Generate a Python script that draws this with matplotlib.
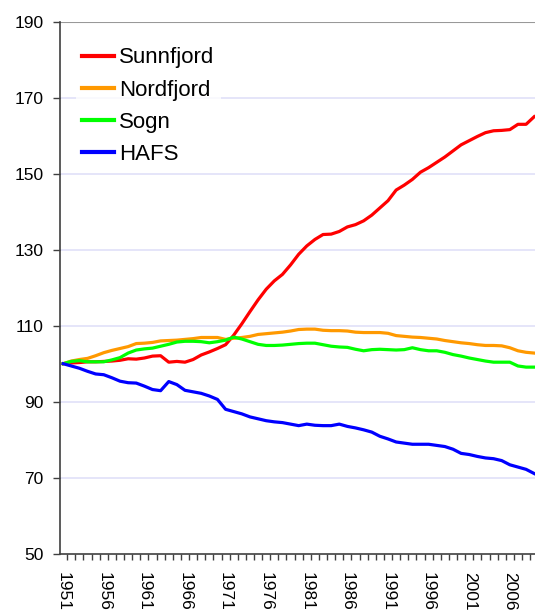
import matplotlib
matplotlib.use("Agg")
import matplotlib.pyplot as plt
from matplotlib.ticker import FixedLocator

plt.rcParams['font.family'] = ['Liberation Sans', 'DejaVu Sans']

# index, 1951 = 100
years = list(range(1951, 2010))

sunnfjord = [100.0, 100.2, 100.3, 100.5, 100.5, 100.6, 100.7, 100.9, 101.3, 101.2,
             101.5, 102.0, 102.1, 100.4, 100.6, 100.4, 101.1, 102.3, 103.1, 104.0,
             105.0, 107.5, 110.5, 113.7, 116.8, 119.6, 121.8, 123.5, 126.0, 128.8,
             131.0, 132.7, 134.0, 134.1, 134.8, 136.0, 136.6, 137.6, 139.1, 141.0,
             142.9, 145.7, 147.0, 148.5, 150.4, 151.6, 153.0, 154.4, 156.0, 157.6,
             158.7, 159.8, 160.8, 161.3, 161.4, 161.6, 163.0, 163.0, 165.0]

nordfjord = [100.0, 100.7, 101.1, 101.4, 102.1, 102.9, 103.5, 104.0, 104.5, 105.3,
             105.4, 105.6, 106.0, 106.1, 106.2, 106.4, 106.6, 106.9, 106.9, 106.9,
             106.4, 106.7, 106.9, 107.2, 107.7, 107.9, 108.1, 108.3, 108.6, 109.0,
             109.1, 109.1, 108.8, 108.7, 108.7, 108.6, 108.3, 108.2, 108.2, 108.2,
             108.0, 107.4, 107.2, 107.0, 106.9, 106.7, 106.5, 106.1, 105.8, 105.5,
             105.3, 105.0, 104.8, 104.8, 104.7, 104.2, 103.4, 103.0, 102.8]

sogn = [100.0, 100.6, 100.8, 100.5, 100.5, 100.5, 101.0, 101.6, 102.8, 103.6,
        103.9, 104.1, 104.6, 105.1, 105.7, 105.9, 105.9, 105.8, 105.5, 105.8,
        106.2, 107.0, 106.5, 105.8, 105.1, 104.8, 104.8, 104.9, 105.1, 105.3,
        105.4, 105.4, 105.0, 104.6, 104.4, 104.3, 103.8, 103.4, 103.7, 103.8,
        103.7, 103.6, 103.7, 104.2, 103.7, 103.4, 103.4, 103.0, 102.4, 102.0,
        101.5, 101.1, 100.7, 100.4, 100.4, 100.4, 99.4, 99.1, 99.1]

hafs = [100.0, 99.4, 98.8, 98.0, 97.3, 97.1, 96.3, 95.4, 95.0, 94.9,
        94.1, 93.2, 92.9, 95.3, 94.5, 93.0, 92.6, 92.2, 91.5, 90.6,
        88.0, 87.4, 86.8, 86.0, 85.5, 85.0, 84.7, 84.5, 84.1, 83.7,
        84.1, 83.8, 83.7, 83.7, 84.1, 83.5, 83.1, 82.6, 82.0, 80.9,
        80.2, 79.4, 79.1, 78.8, 78.8, 78.8, 78.5, 78.2, 77.5, 76.4,
        76.1, 75.6, 75.2, 75.0, 74.5, 73.4, 72.8, 72.2, 71.1]

series = [("Sunnfjord", sunnfjord, "#ff0000"),
          ("Nordfjord", nordfjord, "#ff9900"),
          ("Sogn", sogn, "#00ff00"),
          ("HAFS", hafs, "#0000ff")]

label_years = years[::5]

fig = plt.figure(figsize=(5.35, 6.10), dpi=100)
ax = fig.add_axes([0.112, 0.0923, 0.888, 0.8721])

for name, vals, col in series:
    ax.plot(years, vals, color=col, lw=2.3, label=name, solid_joinstyle='round')

ax.set_ylim(50, 190)
ax.set_xlim(1950.6, 2009.1)
ax.set_yticks(range(50, 191, 20))
for y in range(70, 171, 20):
    ax.axhline(y, color="#e0e0f8", lw=1.2, zorder=0)
ax.axhline(190, color="#999999", lw=1.5, zorder=0)

ax.set_xticks(label_years)
ax.set_xticklabels([str(y) for y in label_years], rotation=-90, va='top', ha='center')
ax.xaxis.set_minor_locator(FixedLocator([y + 0.5 for y in range(1950, 2009)]))
ax.tick_params(axis='x', which='major', length=0, pad=13, labelsize=12.5)
ax.tick_params(axis='x', which='minor', length=4, width=1, color="#404040")
ax.tick_params(axis='y', length=5, width=1, color="#404040", labelsize=12.5, pad=7)

for s in ['top', 'right']:
    ax.spines[s].set_visible(False)
for s in ['left', 'bottom']:
    ax.spines[s].set_color("#404040")
    ax.spines[s].set_linewidth(1.2)

leg = ax.legend(loc='upper left', bbox_to_anchor=(0.01, 0.985), fontsize=16,
                handlelength=1.4, handletextpad=0.25, labelspacing=0.5,
                frameon=True, fancybox=False, borderpad=0.3)
leg.get_frame().set_facecolor('white')
leg.get_frame().set_edgecolor('none')
for h in leg.get_lines():
    h.set_linewidth(3)

fig.savefig("out.png", dpi=100)
